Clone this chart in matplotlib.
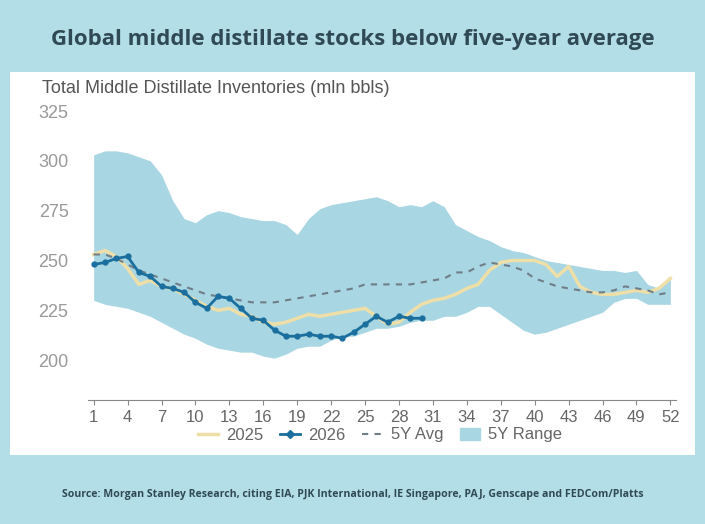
import matplotlib.pyplot as plt
from matplotlib.patches import Rectangle, Patch
from matplotlib.lines import Line2D

weeks = list(range(1, 53))
y2026 = [248, 249, 251, 252, 244, 242, 237, 236, 234, 229, 226, 232, 231, 226, 221,
         220, 215, 212, 212, 213, 212, 212, 211, 214, 218, 222, 219, 222, 221, 221]
y2025 = [253, 255, 252, 246, 238, 240, 237, 236, 233, 230, 227, 225, 226, 223, 222,
         219, 218, 219, 221, 223, 222, 223, 224, 225, 226, 222, 218, 219, 224, 228,
         230, 231, 233, 236, 238, 245, 249, 250, 250, 250, 248, 242, 247, 237, 234,
         233, 233, 234, 235, 234, 236, 241]
avg5y = [253, 253, 251, 248, 245, 243, 241, 239, 237, 235, 233, 232, 231, 230, 229,
         229, 229, 230, 231, 232, 233, 234, 235, 236, 238, 238, 238, 238, 238, 239,
         240, 241, 244, 244, 247, 249, 248, 247, 245, 241, 239, 237, 236, 235, 234,
         234, 235, 237, 236, 235, 233, 234]
range_hi = [303, 305, 305, 304, 302, 300, 293, 280, 271, 269, 273, 275, 274, 272, 271,
            270, 270, 268, 263, 271, 276, 278, 279, 280, 281, 282, 280, 277, 278, 277,
            280, 277, 268, 265, 262, 260, 257, 255, 254, 252, 250, 249, 248, 247, 246,
            245, 245, 244, 245, 238, 236, 242]
range_lo = [230, 228, 227, 226, 224, 222, 219, 216, 213, 211, 208, 206, 205, 204, 204,
            202, 201, 203, 206, 207, 207, 210, 212, 212, 214, 216, 216, 217, 219, 220,
            220, 222, 222, 224, 227, 227, 223, 219, 215, 213, 214, 216, 218, 220, 222,
            224, 229, 231, 231, 228, 228, 228]
yticks = [200, 225, 250, 275, 300, 325]
xticks = list(range(1, 53, 3))

bg = '#b3dde7'
fig = plt.figure(figsize=(7.05, 5.24), dpi=100, facecolor=bg)
fig.patches.append(Rectangle((10 / 705, 1 - 455 / 524), 685 / 705, 383 / 524,
                             transform=fig.transFigure, facecolor='white', zorder=-5))
fig.text(0.5, 1 - 40 / 524, "Global middle distillate stocks below five-year average",
         ha='center', va='center', fontsize=16, fontweight='bold', color='#2f4a55',
         family='Open Sans')
fig.text(0.5, 1 - 495 / 524, "Source: Morgan Stanley Research, citing EIA, PJK International, "
         "IE Singapore, PAJ, Genscape and FEDCom/Platts",
         ha='center', va='center', fontsize=7.6, fontweight='bold', color='#2f4a55',
         family='Open Sans')
fig.text(42 / 705, 1 - 88 / 524, "Total Middle Distillate Inventories (mln bbls)",
         ha='left', va='center', fontsize=13, color='#555555', family='Liberation Sans')

ax = fig.add_axes([88 / 705, 1 - 400 / 524, 588 / 705, 289 / 524], zorder=2)
ax.patch.set_alpha(0)
ax.fill_between(weeks, range_lo, range_hi, color='#a8d6e2', lw=0)
ax.plot(weeks, y2025, color='#eedfa8', lw=2.5)
ax.plot(weeks, avg5y, color='#6f7e88', lw=1.5, ls=(0, (3, 3)))
ax.plot(weeks[:len(y2026)], y2026, color='#1a6f9e', lw=2, marker='o', ms=3.5)

ax.set_ylim(180, 325)
ax.set_xlim(0.5, 52.5)
ax.set_yticks(yticks)
ax.set_xticks(xticks)
for s in ['top', 'right', 'left']:
    ax.spines[s].set_visible(False)
ax.spines['bottom'].set_color('#888888')
ax.tick_params(axis='y', length=0, labelsize=13, labelcolor='#999999', pad=14)
ax.tick_params(axis='x', color='#888888', labelsize=12, labelcolor='#666666')
for lbl in ax.get_xticklabels() + ax.get_yticklabels():
    lbl.set_family('Liberation Sans')

handles = [Line2D([], [], color='#eedfa8', lw=2.5),
           Line2D([], [], color='#1a6f9e', lw=2, marker='D', ms=4),
           Line2D([], [], color='#6f7e88', lw=1.5, ls=(0, (3, 3))),
           Patch(color='#a8d6e2')]
fig.legend(handles, ['2025', '2026', '5Y Avg', '5Y Range'], loc='center',
           bbox_to_anchor=(380 / 705, 1 - 435 / 524), ncol=4, frameon=False,
           fontsize=12, labelcolor='#666666', handlelength=1.2, columnspacing=1.0,
           handletextpad=0.5, prop={'family': 'Liberation Sans', 'size': 12})

fig.savefig('out.png', dpi=100, facecolor=bg)
